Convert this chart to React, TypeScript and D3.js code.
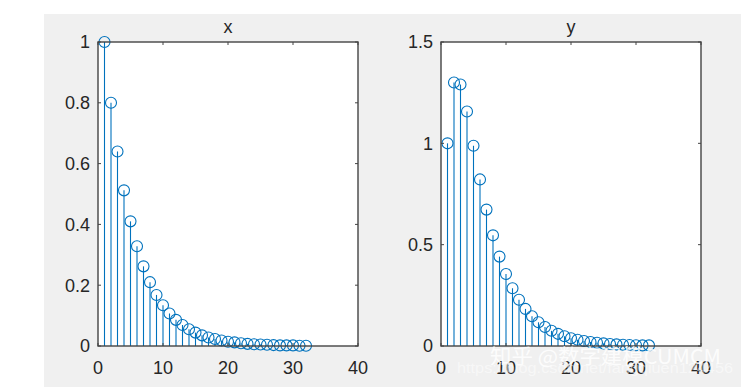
import * as d3 from "d3";

// stem values, n = 1..32
const steps = d3.range(1, 33);
const xValues = [
  1, 0.8, 0.64, 0.512, 0.41, 0.328, 0.262, 0.21, 0.168, 0.134, 0.107, 0.086,
  0.069, 0.055, 0.044, 0.035, 0.028, 0.023, 0.018, 0.014, 0.012, 0.009, 0.007,
  0.006, 0.005, 0.004, 0.003, 0.002, 0.002, 0.002, 0.001, 0.001,
];
const yValues = [
  1, 1.3, 1.29, 1.157, 0.988, 0.822, 0.673, 0.546, 0.441, 0.355, 0.285, 0.228,
  0.183, 0.147, 0.117, 0.094, 0.075, 0.06, 0.048, 0.038, 0.031, 0.025, 0.02,
  0.016, 0.013, 0.01, 0.008, 0.006, 0.005, 0.004, 0.003, 0.003,
];
const xTicks = [0, 10, 20, 30, 40];
const leftYTicks = [0, 0.2, 0.4, 0.6, 0.8, 1];
const rightYTicks = [0, 0.5, 1, 1.5];

const W = 741;
const H = 387;
const FONT = "'Liberation Sans', Arial, Helvetica, sans-serif";
const BLUE = "#0072BD";
const AXIS = "#444444";
const TEXT = "#262626";

type PanelProps = {
  title: string;
  values: number[];
  yMax: number;
  yTicks: number[];
  left: number;
  right: number;
  top: number;
  bottom: number;
};

const Panel = (props: PanelProps) => {
  const sx = d3.scaleLinear().domain([0, 40]).range([props.left, props.right]);
  const sy = d3.scaleLinear().domain([0, props.yMax]).range([props.bottom, props.top]);
  const tick = 3;

  return (
    <g>
      <rect
        x={props.left}
        y={props.top}
        width={props.right - props.left}
        height={props.bottom - props.top}
        fill="#ffffff"
      />
      {props.values.map((v, i) => (
        <line
          key={"s" + i}
          x1={sx(steps[i])}
          x2={sx(steps[i])}
          y1={sy(0)}
          y2={sy(v)}
          stroke={BLUE}
          strokeWidth={1.1}
        />
      ))}
      {props.values.map((v, i) => (
        <circle
          key={"c" + i}
          cx={sx(steps[i])}
          cy={sy(v)}
          r={5.5}
          fill="none"
          stroke={BLUE}
          strokeWidth={1.1}
        />
      ))}
      <rect
        x={props.left}
        y={props.top}
        width={props.right - props.left}
        height={props.bottom - props.top}
        fill="none"
        stroke={AXIS}
        strokeWidth={1.4}
      />
      {xTicks.map((t) => (
        <g key={"xt" + t}>
          <line x1={sx(t)} x2={sx(t)} y1={props.bottom} y2={props.bottom - tick} stroke={AXIS} />
          <line x1={sx(t)} x2={sx(t)} y1={props.top} y2={props.top + tick} stroke={AXIS} />
          <text
            x={sx(t)}
            y={props.bottom + 28}
            textAnchor="middle"
            fontSize={18}
            fontFamily={FONT}
            fill={TEXT}
          >
            {String(t)}
          </text>
        </g>
      ))}
      {props.yTicks.map((t) => (
        <g key={"yt" + t}>
          <line x1={props.left} x2={props.left + tick} y1={sy(t)} y2={sy(t)} stroke={AXIS} />
          <line x1={props.right} x2={props.right - tick} y1={sy(t)} y2={sy(t)} stroke={AXIS} />
          <text
            x={props.left - 8}
            y={sy(t)}
            dy="0.35em"
            textAnchor="end"
            fontSize={18}
            fontFamily={FONT}
            fill={TEXT}
          >
            {String(t)}
          </text>
        </g>
      ))}
      <text
        x={(props.left + props.right) / 2}
        y={props.top - 9}
        textAnchor="middle"
        fontSize={18}
        fontFamily={FONT}
        fill={TEXT}
      >
        {props.title}
      </text>
    </g>
  );
};

export default function App() {
  return (
    <div style={{ position: "fixed", left: 0, top: 0 }}>
      <svg width={W} height={H} style={{ display: "block" }}>
        <rect x={0} y={0} width={W} height={H} fill="#ffffff" />
        <rect x={44} y={14} width={W - 44} height={H - 14} fill="#f0f0f0" />
        <Panel
          title="x"
          values={xValues}
          yMax={1}
          yTicks={leftYTicks}
          left={98}
          right={358}
          top={42}
          bottom={346}
        />
        <Panel
          title="y"
          values={yValues}
          yMax={1.5}
          yTicks={rightYTicks}
          left={441}
          right={701}
          top={42}
          bottom={346}
        />
        <text
          x={457}
          y={373}
          fontSize={15}
          fontFamily={FONT}
          fill="#ffffff"
          fillOpacity={0.5}
          textLength={276}
          lengthAdjust="spacingAndGlyphs"
        >
          https://blog.csdn.net/fangqiuen124456
        </text>
        <text
          x={490}
          y={364}
          fontSize={20}
          fontFamily="'Noto Sans CJK SC', 'Noto Sans', sans-serif"
          fill="#ffffff"
          fillOpacity={0.85}
          textLength={231}
          lengthAdjust="spacingAndGlyphs"
        >
          知乎 @数字建模CUMCM
        </text>
      </svg>
    </div>
  );
}
